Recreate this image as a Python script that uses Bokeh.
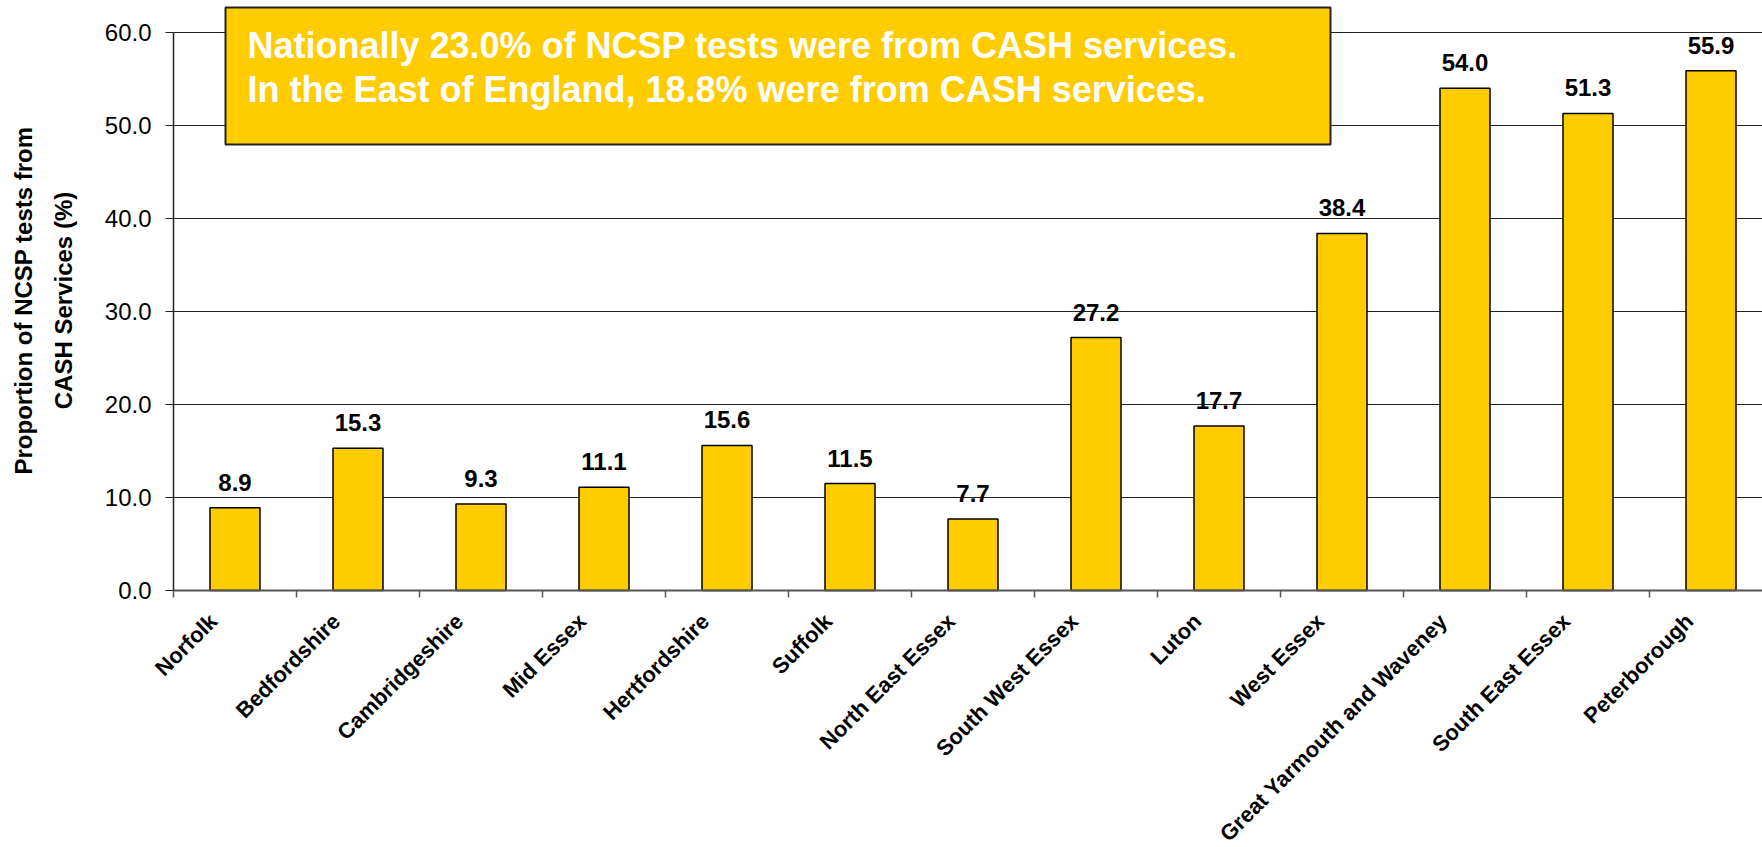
import numpy as np
from bokeh.plotting import figure
from bokeh.models import (ColumnDataSource, Range1d, FixedTicker, CustomJSTickFormatter,
                          LabelSet, Label, BoxAnnotation, PrintfTickFormatter)
from bokeh.core.properties import value
from bokeh.embed import file_html
from bokeh.resources import INLINE

# ---------------- data ----------------
categories = ["Norfolk", "Bedfordshire", "Cambridgeshire", "Mid Essex", "Hertfordshire",
              "Suffolk", "North East Essex", "South West Essex", "Luton", "West Essex",
              "Great Yarmouth and Waveney", "South East Essex", "Peterborough"]
values = [8.9, 15.3, 9.3, 11.1, 15.6, 11.5, 7.7, 27.2, 17.7, 38.4, 54.0, 51.3, 55.9]
y_ticks = [0, 10, 20, 30, 40, 50, 60]
note_lines = ["Nationally 23.0% of NCSP tests were from CASH services.",
              "In the East of England, 18.8% were from CASH services."]
y_title = "Proportion of NCSP tests from\nCASH Services (%)"

# ---------------- layout (page pixels) ----------------
FONT = "Liberation Sans"
BAR_COLOR = "#FFCC00"
W, H = 1762, 847
AXIS_X = 173                        # page x of the value axis
ZERO_Y = 590                        # page y of the value 0
CAT_PX = 123.0                      # width of one category in pixels
PX_PER_UNIT = 558.0 / 60.0          # vertical pixels per percentage point
LABEL_SHIFT = 0.175                 # category labels sit a little left of centre

def xd(page_x):
    return (page_x - AXIS_X) / CAT_PX

def yd(page_y):
    return (ZERO_Y - page_y) / PX_PER_UNIT

n = len(categories)
centers = np.arange(n) + 0.5
src = ColumnDataSource(dict(x=centers, top=values,
                            lbl=[f"{v:.1f}" for v in values]))

# the frame covers the whole canvas so that the slanted labels are never squeezed
p = figure(width=W, height=H, output_backend="svg", toolbar_location=None,
           x_range=Range1d(xd(0), xd(W)), y_range=Range1d(yd(H), yd(0)),
           min_border=0, min_border_left=0, min_border_right=0,
           min_border_top=0, min_border_bottom=0)
p.title.visible = False
p.outline_line_color = None
p.background_fill_color = "white"
p.xgrid.visible = False
p.ygrid.visible = False

# horizontal grid lines, only across the plot area
grid_vals = [t for t in y_ticks if t > 0]
p.segment(x0=0, x1=xd(W), y0=grid_vals, y1=grid_vals,
          line_color="#222222", line_width=1, level="underlay")

# bars
p.vbar(x="x", top="top", bottom=0, width=50 / CAT_PX, source=src,
       fill_color=BAR_COLOR, line_color="black", line_width=1.5)

# x axis at value 0: boundary ticks (minor) + rotated category labels
xa = p.xaxis[0]
xa.fixed_location = 0
xa.bounds = (0, xd(W))
xa.ticker = FixedTicker(ticks=list(centers - LABEL_SHIFT), minor_ticks=list(range(n + 1)))
xa.formatter = CustomJSTickFormatter(args=dict(names=categories, shift=LABEL_SHIFT),
                                     code="return names[Math.round(tick - 0.5 + shift)] || ''")
xa.major_tick_out = 0
xa.major_tick_in = 0
xa.major_tick_line_color = None
xa.minor_tick_out = 7
xa.minor_tick_in = 0
xa.minor_tick_line_color = "#555555"
xa.minor_tick_line_width = 1.5
xa.axis_line_color = "#555555"
xa.axis_line_width = 2
xa.major_label_orientation = np.pi / 4
xa.major_label_standoff = 20
xa.major_label_text_font = FONT
xa.major_label_text_font_size = "22px"
xa.major_label_text_font_style = "bold"
xa.major_label_text_color = "black"

# y axis at category position 0
ya = p.yaxis[0]
ya.fixed_location = 0
ya.ticker = FixedTicker(ticks=y_ticks)
ya.bounds = (0, 60)
ya.formatter = PrintfTickFormatter(format="%.1f")
ya.major_tick_out = 8
ya.major_tick_in = 0
ya.minor_tick_line_color = None
ya.axis_line_color = "#222222"
ya.axis_line_width = 1.5
ya.major_tick_line_color = "#222222"
ya.major_label_text_font = FONT
ya.major_label_text_font_size = "24px"
ya.major_label_text_color = "black"
ya.major_label_standoff = 14

# y axis title
p.add_layout(Label(x=xd(43), y=yd(300), text=y_title, angle=np.pi / 2,
                   text_align="center", text_baseline="middle", text_line_height=1.45,
                   text_font=FONT, text_font_size="24px", text_font_style="bold",
                   text_color="black"))

# value labels above bars
p.add_layout(LabelSet(x="x", y="top", text="lbl", source=src, y_offset=17,
                      text_align="center", text_baseline="alphabetic",
                      text_font=value(FONT), text_font_size=value("24px"),
                      text_font_style="bold", text_color="black"))

# note box
p.add_layout(BoxAnnotation(left=xd(225), right=xd(1330), bottom=yd(144), top=yd(7),
                           fill_color=BAR_COLOR, fill_alpha=1.0,
                           line_color="#222222", line_width=2, line_alpha=1.0))
for i, line in enumerate(note_lines):
    p.add_layout(Label(x=xd(247), y=yd(45 + 44 * i), text=line,
                       text_align="left", text_baseline="alphabetic",
                       text_font=FONT, text_font_size="36px",
                       text_font_style="bold", text_color="white"))

open("out.html", "w").write(file_html(p, INLINE))
